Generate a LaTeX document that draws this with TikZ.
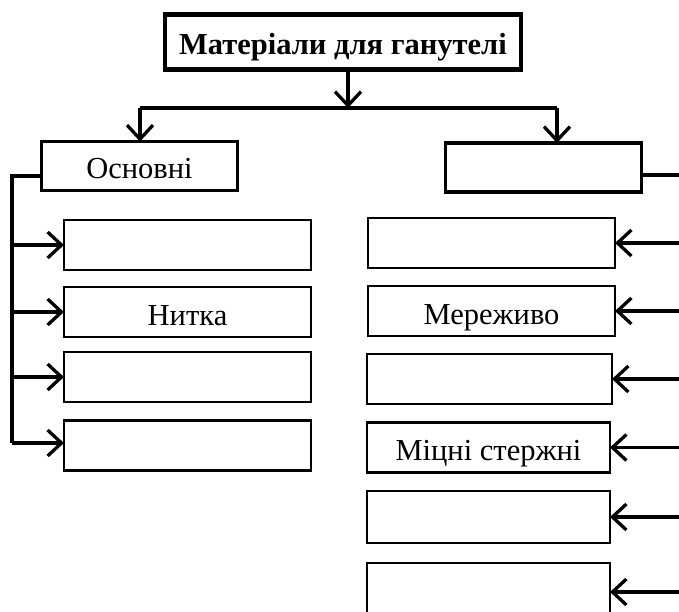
\documentclass[tikz,border=0pt]{standalone}
\usepackage{fontspec}
\setmainfont{Liberation Serif}
\usetikzlibrary{arrows.meta}
\tikzset{
  txt/.style={font=\fontsize{30.5}{34}\selectfont, text height=27pt, text depth=1pt},
  sbox/.style={draw, line width=2.8pt, inner sep=0pt, outer sep=0pt, minimum width=247pt, minimum height=50pt, txt},
  hbox/.style={draw, line width=3.2pt, inner sep=0pt, outer sep=0pt, minimum width=196pt, minimum height=49pt, txt},
  tbox/.style={draw, line width=4.8pt, inner sep=0pt, outer sep=0pt, minimum width=356pt, minimum height=55pt, txt, font=\fontsize{30.5}{34}\selectfont\bfseries},
  conn/.style={line width=3.3pt},
  arr/.style={line width=3.3pt, -{Straight Barb[length=14pt,width=26pt]}}
}
\begin{document}
\begin{tikzpicture}[x=1pt,y=-1pt]
\useasboundingbox (0,0) rectangle (679,612);
\fill[white] (0,0) rectangle (679,612);
% boxes
\node[tbox] (top) at (343,42) {Матеріали для ганутелі};
\node[hbox] (osn) at (139.5,166) {Основні};
\node[hbox] (rt) at (543.5,167.5) {};
\node[sbox] (L1) at (187.5,245) {};
\node[sbox] (L2) at (187.5,312) {Нитка};
\node[sbox] (L3) at (187.5,377) {};
\node[sbox] (L4) at (187.5,445.5) {};
\node[sbox] (R1) at (491.5,243) {};
\node[sbox] (R2) at (491.5,311) {Мереживо};
\node[sbox, minimum width=245pt] (R3) at (489.5,379) {};
\node[sbox, minimum width=243pt] (R4) at (488.5,447.5) {Міцні стержні};
\node[sbox, minimum width=243pt, minimum height=52pt] (R5) at (488.5,517) {};
\node[sbox, minimum width=243pt, minimum height=52pt] (R6) at (488.5,589) {};
% top distribution
\coordinate (bl) at (140,108);
\coordinate (br) at (557,108);
\draw[conn] (bl) -- (br);
\draw[arr] ([xshift=5pt]top.south) -- ([xshift=5pt]top.south |- bl);
\draw[arr] (bl) -- (bl |- osn.north);
\draw[arr] (br) -- (br |- rt.north);
% left branch
\coordinate (lt) at (12,176);
\coordinate (lb) at (12,443);
\draw[conn] (osn.west |- lt) -- (lt) -- (lb);
\draw[arr] (lt |- L1.west) -- (L1.west);
\draw[arr] (lt |- L2.west) -- (L2.west);
\draw[arr] (lt |- L3.west) -- (L3.west);
\draw[arr] (lb) -- (lb -| L4.west);
% right branch
\coordinate (rr) at (700,175);
\draw[conn] (rt.east |- rr) -- (rr);
\draw[arr] (R1.east -| rr) -- (R1.east);
\draw[arr] (R2.east -| rr) -- (R2.east);
\draw[arr] (R3.east -| rr) -- (R3.east);
\draw[arr] (R4.east -| rr) -- (R4.east);
\draw[arr] (R5.east -| rr) -- (R5.east);
\coordinate (r6) at (700,592);
\draw[arr] (r6) -- (r6 -| R6.east);
\end{tikzpicture}
\end{document}
